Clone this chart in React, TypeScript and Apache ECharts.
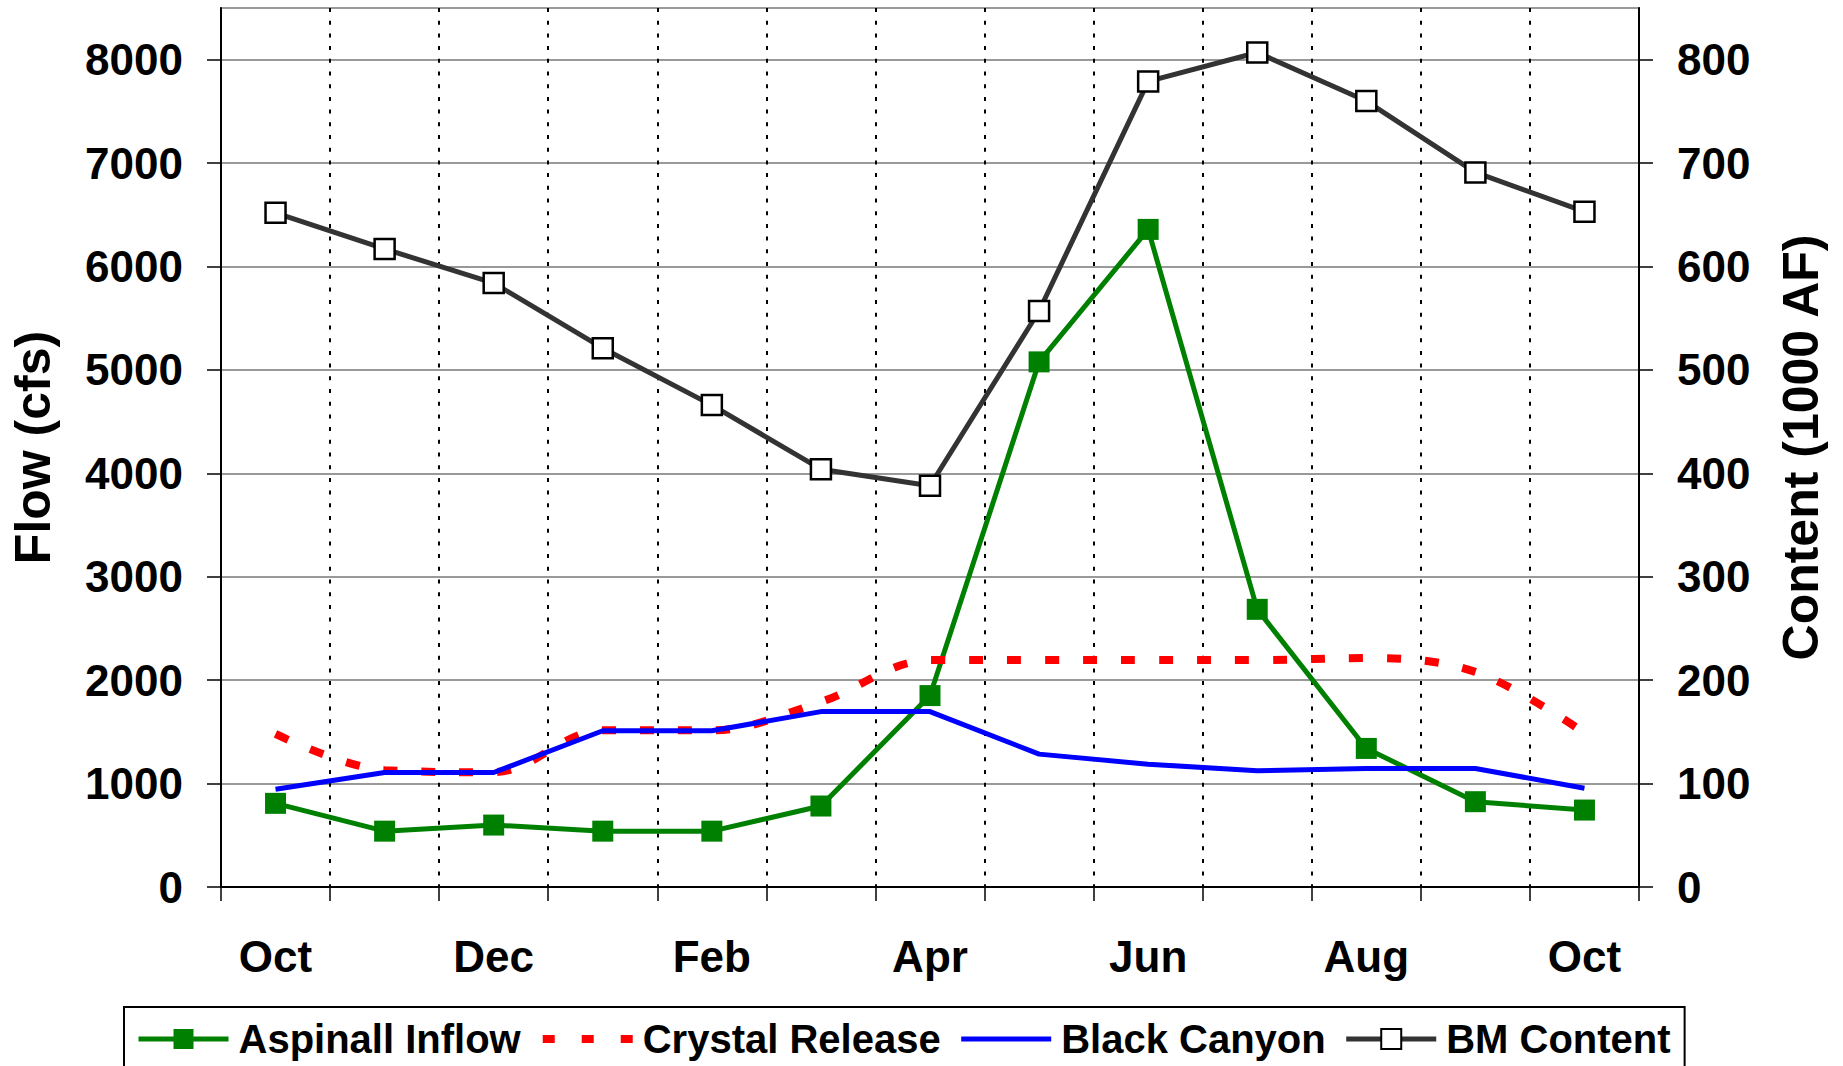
import React, { useEffect, useRef } from "react";
import * as echarts from "echarts";

const months = ["Oct", "Nov", "Dec", "Jan", "Feb", "Mar", "Apr", "May", "Jun", "Jul", "Aug", "Sep", "Oct"];
const aspinallInflow = [809, 540, 599, 540, 540, 783, 1851, 5078, 6359, 2685, 1340, 825, 744];
const crystalRelease = [1480, 1130, 1110, 1515, 1515, 1790, 2194, 2194, 2194, 2194, 2214, 2080, 1490];
const blackCanyon = [945, 1107, 1107, 1511, 1511, 1696, 1696, 1285, 1188, 1123, 1146, 1146, 955];
const bmContent = [652, 617, 584, 521, 466, 404, 388, 557, 779, 807, 760, 691, 653];
const flowTicks = [0, 1000, 2000, 3000, 4000, 5000, 6000, 7000, 8000];
const contentTicks = [0, 100, 200, 300, 400, 500, 600, 700, 800];

const FONT = "'Liberation Sans', Arial, sans-serif";

export default function App() {
  const ref = useRef<HTMLDivElement>(null);
  useEffect(() => {
    const chart = echarts.init(ref.current!, null, { renderer: "svg" });
    const labelStyle = { fontSize: 44, fontWeight: "bold", color: "#000", fontFamily: FONT };
    const plain = (v: number) => String(v);
    const redDash = [14, 24];
    chart.setOption({
      animation: false,
      backgroundColor: "#fff",
      grid: {
        left: 221, right: 204, top: 8, bottom: 179,
        show: true, borderColor: "#999", borderWidth: 2, backgroundColor: "transparent",
      },
      legend: {
        left: 124, top: 1007,
        orient: "horizontal",
        itemWidth: 90, itemHeight: 25, itemGap: 18,
        padding: [12, 14, 30, 12],
        borderColor: "#000", borderWidth: 2,
        textStyle: { fontSize: 40, fontWeight: "bold", color: "#000", fontFamily: FONT, padding: [0, 0, 0, 5] },
        data: [
          { name: "Aspinall Inflow", lineStyle: { width: 5, color: "#008000" } },
          { name: "Crystal Release", itemStyle: { opacity: 0 }, lineStyle: { width: 8, color: "#ff0000", type: [12, 27] } },
          { name: "Black Canyon", itemStyle: { opacity: 0 }, lineStyle: { width: 5, color: "#0000ff" } },
          { name: "BM Content", lineStyle: { width: 5, color: "#333" } },
        ],
      },
      xAxis: {
        type: "category", data: months, boundaryGap: true,
        axisLine: { lineStyle: { color: "#000", width: 2 } },
        axisTick: { show: true, interval: 0, length: 14, lineStyle: { color: "#000", width: 1.5 } },
        axisLabel: { interval: 1, margin: 47, ...labelStyle },
        splitLine: { show: true, interval: 0, lineStyle: { color: "#000", width: 2, type: [4, 8.7] } },
      },
      yAxis: [
        {
          type: "value", min: 0, max: 8500, interval: 1000, position: "left",
          name: "Flow (cfs)", nameLocation: "middle", nameGap: 163, nameRotate: 90,
          nameTextStyle: { fontSize: 50, fontWeight: "bold", color: "#000", fontFamily: FONT },
          axisLine: { show: true, lineStyle: { color: "#000", width: 2 } },
          axisTick: { show: true, length: 14, lineStyle: { color: "#000", width: 1.5 }, customValues: flowTicks },
          axisLabel: { margin: 38, ...labelStyle, formatter: plain, customValues: flowTicks },
          splitLine: { show: true, lineStyle: { color: "#999", width: 2 } },
        },
        {
          type: "value", min: 0, max: 850, interval: 100, position: "right",
          name: "Content (1000 AF)", nameLocation: "middle", nameGap: 137, nameRotate: 90,
          nameTextStyle: { fontSize: 50, fontWeight: "bold", color: "#000", fontFamily: FONT },
          axisLine: { show: true, lineStyle: { color: "#000", width: 2 } },
          axisTick: { show: true, length: 14, lineStyle: { color: "#000", width: 1.5 }, customValues: contentTicks },
          axisLabel: { margin: 38, ...labelStyle, formatter: plain, customValues: contentTicks },
          splitLine: { show: false },
        },
      ],
      series: [
        {
          name: "Aspinall Inflow", type: "line", yAxisIndex: 0, data: aspinallInflow,
          symbol: "rect", symbolSize: 21,
          itemStyle: { color: "#008000" },
          lineStyle: { color: "#008000", width: 5 },
        },
        {
          name: "Crystal Release", type: "line", yAxisIndex: 0, data: crystalRelease,
          symbol: "none", smooth: 0.35,
          itemStyle: { color: "#ff0000" },
          lineStyle: { color: "#ff0000", width: 8, type: redDash },
        },
        {
          name: "Black Canyon", type: "line", yAxisIndex: 0, data: blackCanyon,
          symbol: "none",
          itemStyle: { color: "#0000ff" },
          lineStyle: { color: "#0000ff", width: 5 },
        },
        {
          name: "BM Content", type: "line", yAxisIndex: 1, data: bmContent,
          symbol: "rect", symbolSize: 20,
          itemStyle: { color: "#fff", borderColor: "#000", borderWidth: 2.5 },
          lineStyle: { color: "#333", width: 5 },
        },
      ],
    });
    return () => chart.dispose();
  }, []);
  return <div ref={ref} style={{ position: "fixed", left: 0, top: 0, width: 1843, height: 1066 }} />;
}
